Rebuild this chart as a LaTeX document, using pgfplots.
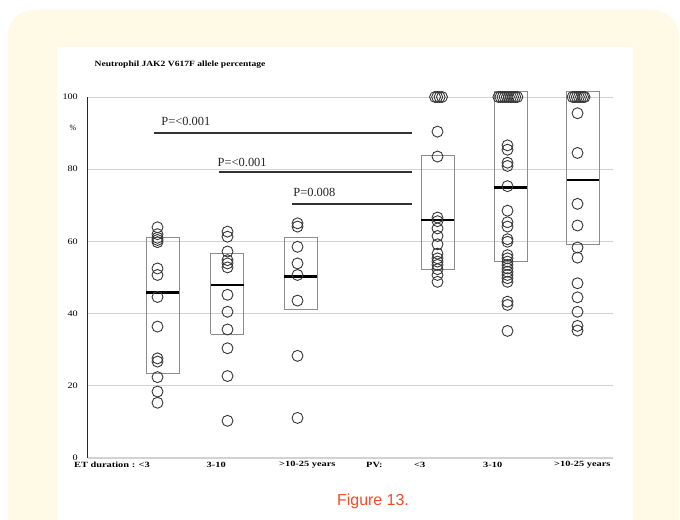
\documentclass[border=0pt]{standalone}
\usepackage{fontspec}
\setmainfont{Liberation Serif}
\newfontfamily\capfont{Liberation Sans}
\usepackage{pgfplots}
\pgfplotsset{compat=1.18}
\definecolor{cream}{RGB}{254,250,230}
\definecolor{capred}{RGB}{240,78,38}
\definecolor{boxgray}{RGB}{140,140,140}
\definecolor{gridgray}{RGB}{210,210,210}
\definecolor{circ}{RGB}{55,55,55}
\newcommand{\lbl}[1]{\scalebox{1.3}[1]{\fontsize{8}{9}\selectfont\bfseries #1}}

\pgfplotstableread{
x y
1 63.9
1 62.0
1 61.0
1 60.4
1 59.8
1 52.5
1 50.7
1 44.6
1 36.4
1 27.6
1 26.7
1 22.4
1 18.4
1 15.3
2 62.7
2 61.3
2 57.2
2 54.8
2 53.9
2 52.8
2 45.2
2 40.5
2 35.6
2 30.4
2 22.7
2 10.3
3 65.0
3 64.1
3 58.5
3 53.9
3 50.7
3 43.6
3 28.3
3 11.1
4.965 100
4.995 100
5.03 100
5.064 100
5 90.4
5 83.5
5 66.6
5 65.6
5 63.6
5 61.5
5 59.2
5 56.6
5 55.3
5 54.4
5 53.5
5 52.3
5 50.7
5 48.8
5.87 100
5.90 100
5.93 100
5.96 100
5.99 100
6.02 100
6.05 100
6.08 100
6.11 100
6.14 100
6 86.6
6 85.4
6 81.8
6 80.9
6 75.3
6 68.5
6 65.3
6 64.1
6 60.6
6 59.9
6 56.2
6 55.3
6 54.4
6 53.5
6 52.5
6 51.6
6 50.7
6 49.8
6 48.8
6 43.3
6 42.4
6 35.2
6.93 100
6.96 100
6.99 100
7.02 100
7.05 100
7.08 100
7.10 100
7 95.5
7 84.5
7 70.4
7 64.4
7 58.3
7 55.5
7 48.4
7 44.5
7 40.5
7 36.6
7 35.3
}\points

\begin{document}
\begin{tikzpicture}[x=1bp,y=1bp]
\path[use as bounding box] (0,0) rectangle (680,520);
\fill[white] (0,0) rectangle (680,520);
\fill[cream, rounded corners=26bp] (7.5,-40) rectangle (679,510);
\fill[white] (57,-10) rectangle (633,473);
\node[anchor=base west, inner sep=0pt] at (94.5,453.5) {\scalebox{1.2}[1]{\fontsize{8}{9}\selectfont\bfseries Neutrophil JAK2 V617F allele percentage}};
\node[text=capred, inner sep=0pt] at (373,19) {\capfont\fontsize{16}{18}\selectfont Figure 13.};

\begin{axis}[at={(87.5bp,62bp)}, anchor=south west, scale only axis,
  width=525bp, height=361bp, xmin=0, xmax=7.5, ymin=0, ymax=100,
  clip=false, axis lines*=left,
  x axis line style={draw=gridgray, line width=1bp},
  y axis line style={draw=black!85, line width=1.2bp},
  xtick=\empty, ytick={0,20,40,60,80,100}, major tick length=0pt,
  ymajorgrids, grid style={draw=gridgray, line width=0.9bp},
  /pgf/number format/assume math mode=true,
  yticklabel style={font=\fontsize{8.5}{9}\selectfont, anchor=east, inner sep=0pt, xshift=-9.5bp},
  yticklabel={\scalebox{1.2}[1]{\pgfmathprintnumber{\tick}}}]

% boxes
\addplot[draw=boxgray, line width=0.9bp] coordinates {(0.839,23.3) (1.310,23.3) (1.310,61.2) (0.839,61.2) (0.839,23.3)};
\addplot[draw=boxgray, line width=0.9bp] coordinates {(1.761,34.3) (2.233,34.3) (2.233,56.7) (1.761,56.7) (1.761,34.3)};
\addplot[draw=boxgray, line width=0.9bp] coordinates {(2.809,41.2) (3.280,41.2) (3.280,61.2) (2.809,61.2) (2.809,41.2)};
\addplot[draw=boxgray, line width=0.9bp] coordinates {(4.766,52.3) (5.237,52.3) (5.237,83.7) (4.766,83.7) (4.766,52.3)};
\addplot[draw=boxgray, line width=0.9bp] coordinates {(5.807,54.5) (6.279,54.5) (6.279,101.6) (5.807,101.6) (5.807,54.5)};
\addplot[draw=boxgray, line width=0.9bp] coordinates {(6.843,59.1) (7.314,59.1) (7.314,101.6) (6.843,101.6) (6.843,59.1)};

% circles
\addplot[only marks, mark=o, mark size=5.5bp, mark options={draw=circ, line width=0.9bp}] table[x=x, y=y] {\points};

% medians
\addplot[black, line width=2.6bp] coordinates {(0.839,45.9) (1.310,45.9)};
\addplot[black, line width=2.6bp] coordinates {(1.761,47.9) (2.233,47.9)};
\addplot[black, line width=2.6bp] coordinates {(2.809,50.2) (3.280,50.2)};
\addplot[black, line width=2.6bp] coordinates {(4.766,65.9) (5.237,65.9)};
\addplot[black, line width=2.6bp] coordinates {(5.807,74.9) (6.279,74.9)};
\addplot[black, line width=2.6bp] coordinates {(6.843,77.0) (7.314,77.0)};

% p-value lines
\addplot[black!80, line width=2.2bp] coordinates {(0.957,90.1) (4.639,90.1)};
\addplot[black!80, line width=2.2bp] coordinates {(1.876,79.3) (4.639,79.3)};
\addplot[black!80, line width=2.2bp] coordinates {(2.924,70.3) (4.639,70.3)};

\node[anchor=base west, inner sep=0pt, text=black!85] at (axis cs:1.053,92.2) {\fontsize{12.5}{14}\selectfont P=<0.001};
\node[anchor=base west, inner sep=0pt, text=black!85] at (axis cs:1.857,80.7) {\fontsize{12.5}{14}\selectfont P=<0.001};
\node[anchor=base west, inner sep=0pt, text=black!85] at (axis cs:2.939,72.3) {\fontsize{12.5}{14}\selectfont P=0.008};

\node[inner sep=0pt, xshift=-14.5bp] at (axis cs:0,91.4) {\fontsize{8}{9}\selectfont\%};

% x labels
\node[anchor=west, inner sep=0pt, yshift=-7bp] at (axis cs:-0.193,0) {\lbl{ET duration : <3}};
\node[anchor=west, inner sep=0pt, yshift=-7bp] at (axis cs:1.700,0) {\lbl{3-10}};
\node[anchor=west, inner sep=0pt, yshift=-7bp] at (axis cs:2.736,0) {\lbl{>10-25 years}};
\node[anchor=west, inner sep=0pt, yshift=-7bp] at (axis cs:3.979,0) {\lbl{PV:}};
\node[anchor=west, inner sep=0pt, yshift=-7bp] at (axis cs:4.664,0) {\lbl{<3}};
\node[anchor=west, inner sep=0pt, yshift=-7bp] at (axis cs:5.650,0) {\lbl{3-10}};
\node[anchor=west, inner sep=0pt, yshift=-7bp] at (axis cs:6.664,0) {\lbl{>10-25 years}};
\end{axis}
\end{tikzpicture}
\end{document}
